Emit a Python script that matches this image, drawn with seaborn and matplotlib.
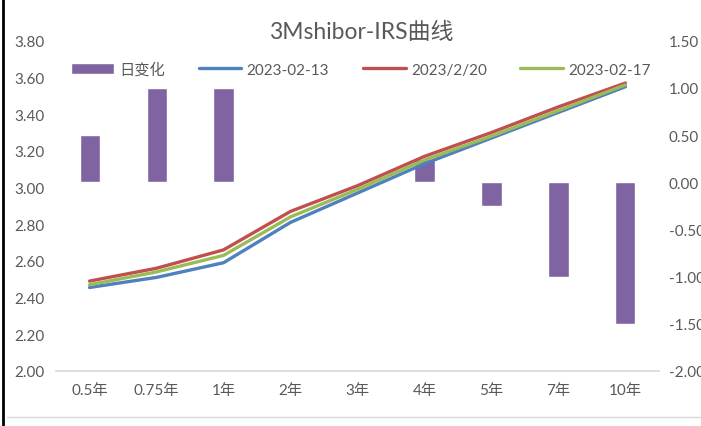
import matplotlib
matplotlib.use("Agg")
import matplotlib.pyplot as plt
import seaborn as sns
import pandas as pd
from matplotlib.lines import Line2D

tenors = ["0.5年", "0.75年", "1年", "2年", "3年", "4年", "5年", "7年", "10年"]
irs_0213 = [2.455, 2.51, 2.59, 2.81, 2.97, 3.13, 3.27, 3.41, 3.55]
irs_0220 = [2.49, 2.56, 2.66, 2.87, 3.01, 3.17, 3.30, 3.44, 3.57]
irs_0217 = [2.47, 2.54, 2.63, 2.84, 2.99, 3.15, 3.28, 3.42, 3.56]
daily_chg = [0.5, 1.0, 1.0, 0.01, 0.01, 0.25, -0.25, -1.0, -1.5]

series = [("2023-02-13", irs_0213, "#4F81BD"),
          ("2023/2/20", irs_0220, "#C0504D"),
          ("2023-02-17", irs_0217, "#9BBB59")]

sns.set_theme(style="white")
plt.rcParams["font.family"] = ["Lato", "Noto Sans CJK SC", "DejaVu Sans"]
txt = "#595959"

fig = plt.figure(figsize=(7.01, 4.27), dpi=100)
ax = fig.add_axes([0.08, 0.129, 0.86, 0.773])
ax2 = ax.twinx()

# bars on the right axis, lines on the left axis drawn above
bar_df = pd.DataFrame({"tenor": tenors, "chg": daily_chg})
sns.barplot(data=bar_df, x="tenor", y="chg", ax=ax2, color="#8064A2",
            saturation=1, width=0.3, label="日变化")

for name, vals, col in series:
    df = pd.DataFrame({"tenor": tenors, "rate": vals})
    sns.lineplot(data=df, x="tenor", y="rate", ax=ax, color=col, lw=2.4,
                 sort=False, label=name)

ax.set_zorder(ax2.get_zorder() + 1)
ax.patch.set_visible(False)

ax.set_xlim(-0.5, len(tenors) - 0.5)
ax.set_ylim(2.0, 3.8)
ax2.set_ylim(-2.0, 1.5)
ax.set_yticks([2.0 + 0.2 * i for i in range(10)])
ax2.set_yticks([-2.0 + 0.5 * i for i in range(8)])
ax.yaxis.set_major_formatter(matplotlib.ticker.FormatStrFormatter("%.2f"))
ax2.yaxis.set_major_formatter(matplotlib.ticker.FormatStrFormatter("%.2f"))
ax.set_xlabel("")
ax.set_ylabel("")
ax2.set_xlabel("")
ax2.set_ylabel("")

for a in (ax, ax2):
    for s in a.spines.values():
        s.set_visible(False)
    a.tick_params(length=0, labelsize=11, colors=txt)
ax.spines["bottom"].set_visible(True)
ax.spines["bottom"].set_color("#D9D9D9")
ax.tick_params(axis="y", pad=8)
ax.tick_params(axis="x", pad=9)
ax2.tick_params(axis="y", pad=7)

# combined legend
h1, l1 = ax2.get_legend_handles_labels()
h2, l2 = ax.get_legend_handles_labels()
if ax.get_legend():
    ax.get_legend().remove()
if ax2.get_legend():
    ax2.get_legend().remove()
fig.legend(h1 + h2, l1 + l2, loc="center", bbox_to_anchor=(0.515, 0.835),
           ncol=4, frameon=False, fontsize=11, labelcolor=txt,
           handlelength=2.8, handletextpad=0.35, columnspacing=2.2)

fig.text(0.515, 0.925, "3Mshibor-IRS曲线", ha="center", va="center",
         fontsize=16.5, color=txt)

# screenshot frame edges
fig.add_artist(Line2D([0.004, 0.004], [0, 1], color="black", lw=2,
                      transform=fig.transFigure))
fig.add_artist(Line2D([0.01, 1], [0.021, 0.021], color="#D9D9D9", lw=1,
                      transform=fig.transFigure))

fig.savefig("out.png", dpi=100)
